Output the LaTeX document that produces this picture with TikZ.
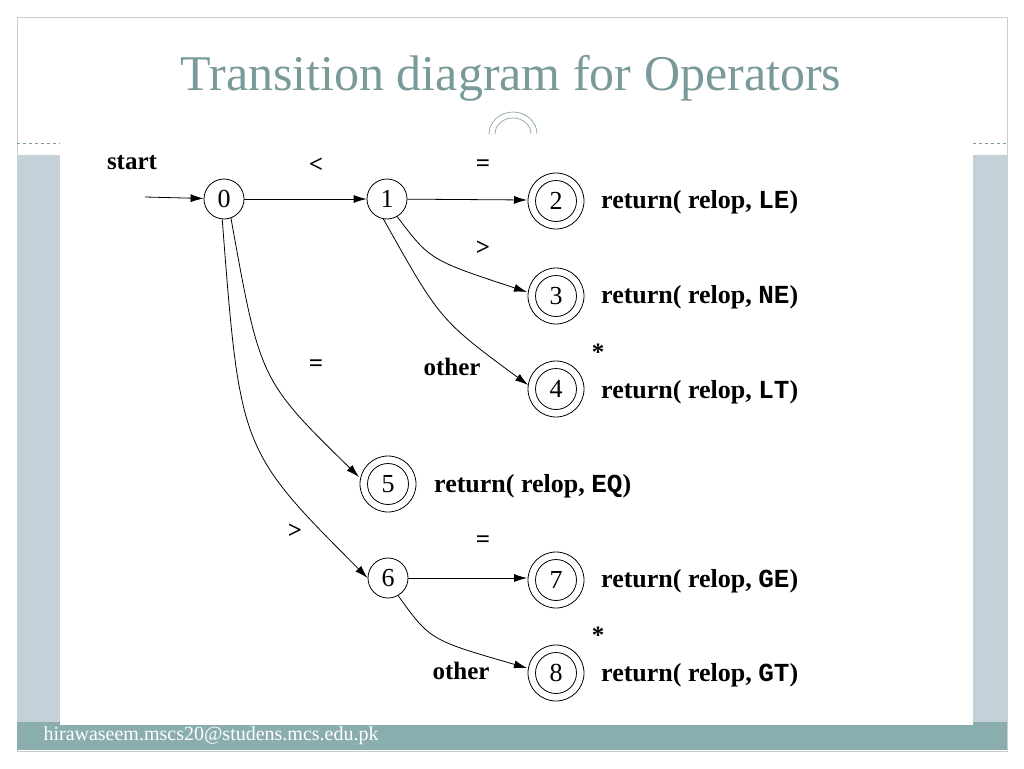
\documentclass[tikz,border=0pt]{standalone}
\usepackage{fontspec}
\setmainfont{Liberation Serif}
\setmonofont{Liberation Mono}
\usetikzlibrary{arrows.meta}
\definecolor{ttl}{HTML}{7A9A9A}
\definecolor{pan}{HTML}{C5D1D8}
\definecolor{bar}{HTML}{8AADAD}
\begin{document}
\begin{tikzpicture}[x=1pt,y=-1pt,
  st/.style={circle,draw,thick,minimum size=40pt,inner sep=0pt,font=\fontsize{26}{26}\selectfont},
  acc/.style={st,minimum size=41pt,append after command={node[circle,draw,thick,minimum size=56pt,inner sep=0pt] at (\tikzlastnode.center) {}}},
  tr/.style={-{Latex[length=13pt,width=8pt]},thick},
  lb/.style={font=\bfseries\fontsize{25}{25}\selectfont},
  ret/.style={anchor=west,font=\bfseries\fontsize{26}{26}\selectfont,inner sep=0pt}]
\useasboundingbox (0,0) rectangle (1024,768);
\fill[white] (0,0) rectangle (1024,768);
\draw[gray!40] (17,17) rectangle (1007,751);
\fill[pan] (17,155) rectangle (1007,725);
\fill[bar] (17,722) rectangle (1007,750);
\draw[ttl,dashed,thin] (17,143) -- (60,143);
\draw[ttl,dashed,thin] (973,143) -- (1007,143);
\fill[white] (60,150) rectangle (973,725);
\node[text=ttl,font=\fontsize{50}{50}\selectfont] (title) at (511,78) {Transition diagram for Operators};
\draw[ttl,semithick] (489,134) arc (180:360:24 and 22);
\draw[ttl,semithick] (495,134) arc (180:360:18 and 16);
\node[white,anchor=west,font=\fontsize{20}{20}\selectfont] (foot) at (40,736) {hirawaseem.mscs20@studens.mcs.edu.pk};

\node[st] (s0) at (224,199) {0};
\node[st] (s1) at (387,199) {1};
\node[acc] (s2) at (556,201) {2};
\node[acc] (s3) at (556,296) {3};
\node[acc] (s4) at (556,389) {4};
\node[acc] (s5) at (388,484) {5};
\node[st] (s6) at (388,578) {6};
\node[acc] (s7) at (556,580) {7};
\node[acc] (s8) at (556,673) {8};
\coordinate (in) at (145,197);
\draw[tr] (in) -- (s0);
\node[lb] (lstart) at (132,163) {start};
\draw[tr] (s0) -- (s1);
\draw[tr] (s1) -- (527,200);
\draw[tr] (s1.-60) .. controls (430,260) .. (527,292);
\draw[tr] (s1.-100) .. controls (440,320) .. (528,385);
\draw[tr] (s0.-70) .. controls (260,380) .. (359,477);
\draw[tr] (s0.-95) .. controls (240,450) .. (s6.west);
\draw[tr] (s6) -- (527,578);
\draw[tr] (s6.-60) .. controls (430,640) .. (527,668);
\node[lb] (l1) at (316,165) {<};
\node[lb] (l2) at (483,166) {=};
\node[lb] (l3) at (483,248) {>};
\node[lb] (l4) at (452,367) {other};
\node[lb] (l5) at (316,366) {=};
\node[lb] (l6) at (295,531) {>};
\node[lb] (l7) at (483,542) {=};
\node[lb] (l8) at (461,671) {other};
\node[lb] (a4) at (598,352) {*};
\node[lb] (a8) at (598,635) {*};
\node[ret] (r2) at (601,202) {return( relop, \texttt{LE})};
\node[ret] (r3) at (601,297) {return( relop, \texttt{NE})};
\node[ret] (r4) at (601,392) {return( relop, \texttt{LT})};
\node[ret] (r5) at (434,486) {return( relop, \texttt{EQ})};
\node[ret] (r7) at (601,581) {return( relop, \texttt{GE})};
\node[ret] (r8) at (601,675) {return( relop, \texttt{GT})};
\end{tikzpicture}
\end{document}
